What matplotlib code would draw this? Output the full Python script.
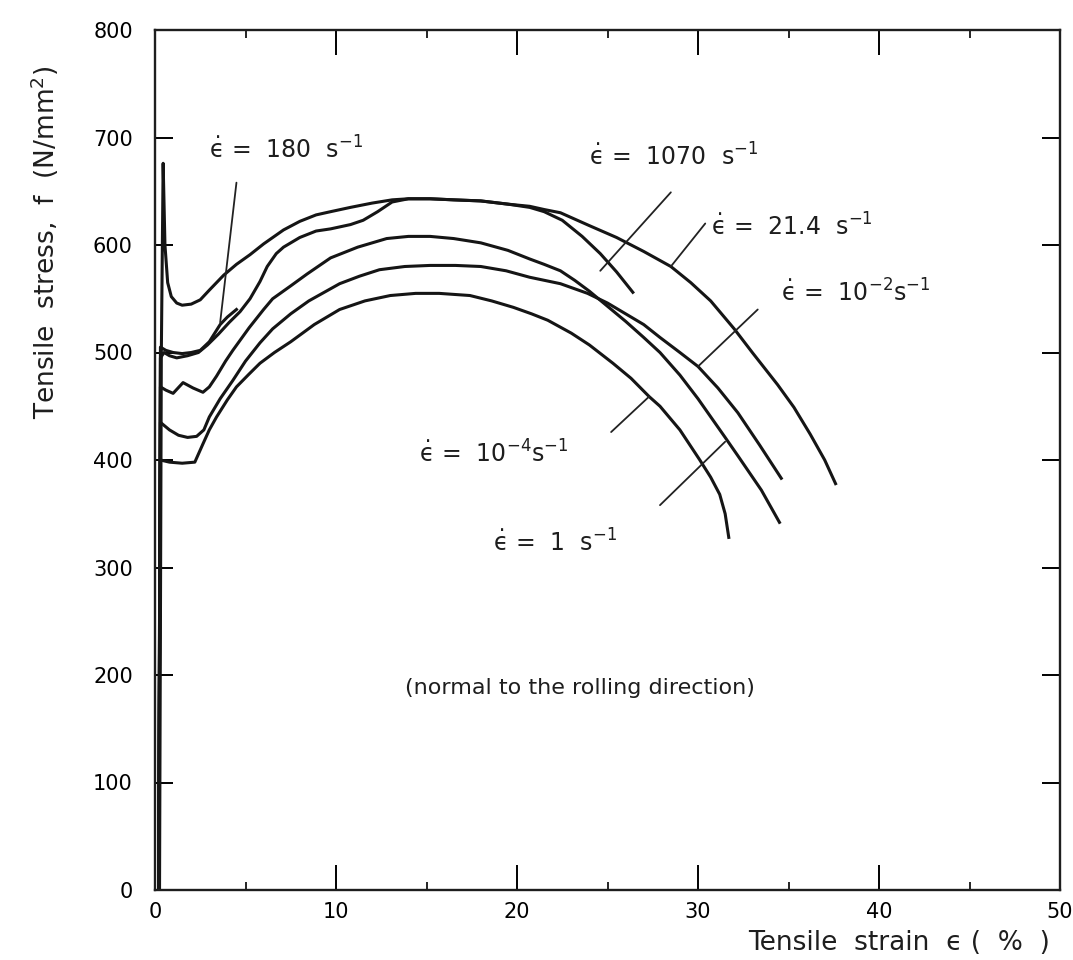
import matplotlib
matplotlib.use('Agg')
from matplotlib import pyplot as plt
from matplotlib.ticker import MultipleLocator

# strain (%) / stress (N/mm2)
x_1070 = [0.25, 0.35, 0.45, 0.55, 0.7, 0.9, 1.2, 1.5, 2.0, 2.5, 3.0, 3.8, 4.5, 5.25, 6.0, 7.1, 8.0,
          8.9, 9.7, 10.8, 12.0, 13.1, 14.0, 15.2, 16.5, 18.0, 19.5, 20.7, 21.5, 22.5, 23.6, 24.6,
          25.5, 26.4]
y_1070 = [0, 500, 676, 600, 565, 552, 546, 544, 545, 549, 558, 572, 582, 591, 601, 614, 622,
          628, 631, 635, 639, 642, 643, 643, 642, 641, 638, 635, 631, 623, 608, 592,
          575, 556]

x_180 = [0.2, 0.3, 0.6, 1.0, 1.5, 2.0, 2.5, 3.0, 3.6, 4.0, 4.5]
y_180 = [0, 505, 502, 500, 499, 500, 502, 510, 526, 533, 540]

x_21 = [0.2, 0.3, 0.5, 0.8, 1.2, 1.8, 2.4, 2.9, 3.5, 4.1, 4.7, 5.25, 5.8, 6.2, 6.7, 7.1, 8.0,
        8.9, 9.7, 10.8, 11.5, 12.3, 13.1, 14.0, 15.2, 16.5, 18.0, 19.5, 20.7, 21.5, 22.4, 23.2,
        24.0, 25.5, 27.0, 28.5, 29.6, 30.7, 32.0, 33.0, 34.4, 35.3, 36.2, 37.0, 37.6]
y_21 = [0, 495, 500, 497, 495, 497, 500, 507, 517, 528, 538, 550, 566, 580, 592, 598, 607,
        613, 615, 619, 623, 631, 640, 643, 643, 642, 641, 638, 636, 633, 630, 624,
        618, 607, 594, 580, 565, 548, 522, 500, 470, 449, 424, 400, 378]

x_1 = [0.2, 0.3, 0.6, 1.0, 1.55, 2.1, 2.65, 3.0, 3.4, 3.9, 4.3, 5.2, 6.0, 6.5, 7.5, 8.4, 9.7,
       11.2, 12.8, 14.0, 15.2, 16.5, 18.0, 19.5, 20.7, 21.5, 22.4, 23.2, 24.0, 25.0, 26.0, 27.0,
       27.9, 29.0, 30.0, 31.5, 32.2, 33.5, 34.5]
y_1 = [0, 468, 465, 462, 472, 467, 463, 468, 478, 492, 502, 523, 540, 550, 562, 573, 588,
       598, 606, 608, 608, 606, 602, 595, 587, 582, 576, 567, 557, 543, 529, 514,
       500, 479, 457, 421, 404, 372, 342]

x_1e2 = [0.2, 0.3, 0.8, 1.3, 1.8, 2.3, 2.7, 3.0, 3.6, 4.3, 5.0, 5.8, 6.5, 7.5, 8.5, 10.2, 11.3,
         12.4, 13.8, 15.2, 16.6, 18.0, 19.4, 20.7, 22.4, 23.9, 25.0, 25.9, 27.0, 27.9, 29.0,
         30.0, 31.1, 32.2, 33.4, 34.6]
y_1e2 = [0, 435, 428, 423, 421, 422, 428, 440, 457, 474, 492, 509, 522, 536, 548, 564, 571,
         577, 580, 581, 581, 580, 576, 570, 564, 555, 546, 537, 526, 514, 500,
         487, 467, 444, 414, 383]

x_1e4 = [0.2, 0.3, 0.8, 1.5, 2.2, 2.65, 3.0, 3.4, 4.0, 4.5, 5.2, 5.8, 6.6, 7.5, 8.8, 10.2, 11.6,
         13.0, 14.4, 15.7, 17.4, 18.6, 19.8, 20.8, 21.7, 23.0, 24.0, 25.3, 26.3, 27.3, 27.9,
         29.0, 30.1, 30.7, 31.2, 31.5, 31.7]
y_1e4 = [0, 400, 398, 397, 398, 415, 428, 440, 456, 468, 480, 490, 500, 510, 526, 540, 548,
         553, 555, 555, 553, 548, 542, 536, 530, 518, 507, 490, 476, 459, 450,
         428, 400, 384, 368, 350, 328]

# rate labels: text, text anchor (x, y), leader start, leader end (on the curve)
eps = '$\\dot{\u03f5}$'
labels = [eps + ' =  180  s$^{-1}$',
          eps + ' =  1070  s$^{-1}$',
          eps + ' =  21.4  s$^{-1}$',
          eps + ' =  10$^{-2}$s$^{-1}$',
          eps + ' =  10$^{-4}$s$^{-1}$',
          eps + ' =  1  s$^{-1}$']
label_pos = [(3.0, 688), (24.0, 682), (30.7, 617), (34.6, 555), (14.6, 406), (18.7, 323)]
lead_from = [(4.5, 658), (28.5, 649), (30.4, 620), (33.3, 540), (25.2, 426), (27.9, 358)]
lead_to = [(3.6, 528), (24.6, 576), (28.5, 580), (30.0, 487), (27.3, 459), (31.5, 417)]

plt.rcParams['font.family'] = 'DejaVu Sans'
plt.rcParams['mathtext.fontset'] = 'dejavusans'
plt.rcParams['mathtext.default'] = 'regular'

fig = plt.figure(figsize=(10.73, 9.6), dpi=100)
ax = fig.add_axes([155 / 1073, 70 / 960, 905 / 1073, 860 / 960])

for xs, ys in [(x_1070, y_1070), (x_180, y_180), (x_21, y_21),
               (x_1, y_1), (x_1e2, y_1e2), (x_1e4, y_1e4)]:
    ax.plot(xs, ys, color='#151515', lw=2.2, solid_joinstyle='round')

for txt, pos, p0, p1 in zip(labels, label_pos, lead_from, lead_to):
    ax.text(pos[0], pos[1], txt, fontsize=17, ha='left', va='center', color='#1e1e1e')
    ax.annotate('', xy=p1, xytext=p0,
                arrowprops=dict(arrowstyle='-', color='#222222', lw=1.3,
                                shrinkA=0, shrinkB=0))

ax.text(23.5, 188, '(normal to the rolling direction)', fontsize=16,
        ha='center', va='center', color='#1e1e1e')

ax.set_xlim(0, 50)
ax.set_ylim(0, 800)
ax.xaxis.set_major_locator(MultipleLocator(10))
ax.xaxis.set_minor_locator(MultipleLocator(5))
ax.yaxis.set_major_locator(MultipleLocator(100))
ax.tick_params(axis='x', which='major', direction='in', top=True, length=18, width=1.4,
               pad=9, labelsize=15)
ax.tick_params(axis='x', which='minor', direction='in', top=True, length=6, width=1.2)
ax.tick_params(axis='y', which='major', direction='in', right=True, length=13, width=1.4,
               pad=16, labelsize=15)
for sp in ax.spines.values():
    sp.set_linewidth(1.7)
    sp.set_color('#1e1e1e')

fig.text(45 / 1073, 1 - 242 / 960, 'Tensile  stress,  f  (N/mm$^2$)', rotation=90,
         ha='center', va='center', fontsize=19, color='#1e1e1e')
fig.text(1050 / 1073, 1 - 943 / 960, 'Tensile  strain  \u03f5 (  %  )',
         ha='right', va='center', fontsize=19, color='#1e1e1e')

fig.savefig('out.png', dpi=100)
